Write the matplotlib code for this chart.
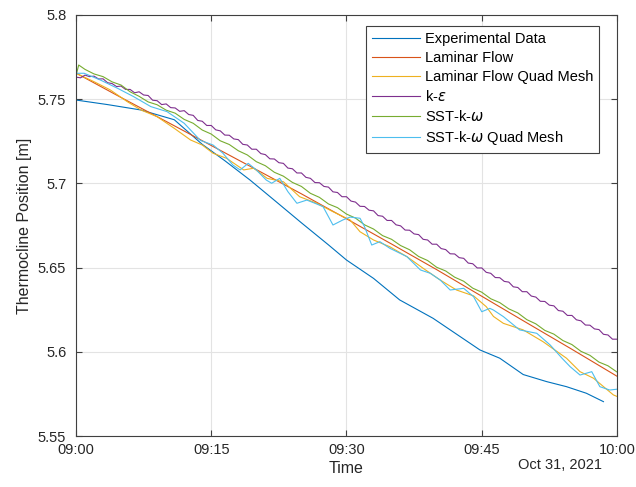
import numpy as np
import matplotlib
matplotlib.use("Agg")
import matplotlib.pyplot as plt
import matplotlib.dates as mdates

plt.rcParams['font.family'] = ['Liberation Sans', 'DejaVu Sans']
plt.rcParams['mathtext.fontset'] = 'dejavusans'

# minutes after 09:00 on Oct 31, 2021, values in m
exp_t = [0, 3.5, 7.2, 10.9, 14.0, 16.5, 19.3, 22, 25, 28, 30, 33, 35.9, 37.6, 39.6,
         42.2, 44.8, 47, 49.6, 52.2, 54.4, 56.6, 58.5]
exp_v = [5.7495, 5.7468, 5.7436, 5.7378, 5.7232, 5.7135, 5.7020, 5.6900, 5.6766,
         5.6635, 5.6545, 5.6436, 5.6308, 5.6258, 5.6199, 5.6105, 5.6011, 5.5962,
         5.5865, 5.5823, 5.5793, 5.5754, 5.5704]

lam_t = [0, 5, 10, 15, 20, 25, 30, 35, 40, 45, 50, 55, 60]
lam_v = [5.7655, 5.7510, 5.7368, 5.7225, 5.7082, 5.6938, 5.6790, 5.6640, 5.6488,
         5.6330, 5.6172, 5.6015, 5.5855]

lamq_t = [0, 2, 3.8, 5.7, 7.2, 9, 10.9, 12.7, 14, 15.2, 16.7, 18.6, 19.7, 21.2, 23,
          24.8, 26.7, 28.5, 30.4, 31.5, 33, 34.8, 36.7, 38.5, 40.4, 42.2, 44.1, 45.5,
          46.3, 47.4, 49.6, 51.8, 54.4, 55.9, 57.4, 59.6, 60]
lamq_v = [5.7654, 5.7604, 5.7555, 5.7485, 5.7436, 5.7396, 5.7327, 5.7258, 5.7228,
          5.7179, 5.7149, 5.7080, 5.7090, 5.7030, 5.7010, 5.6921, 5.6882, 5.6832,
          5.6783, 5.6713, 5.6664, 5.6624, 5.6565, 5.6496, 5.6426, 5.6367, 5.6332,
          5.6268, 5.6210, 5.6169, 5.6130, 5.6060, 5.5962, 5.5882, 5.5843, 5.5744,
          5.5735]

# k-epsilon, sampled every half minute
ke_t = [i * 0.5 for i in range(121)]
ke_v = [5.7631, 5.7627, 5.7643, 5.7634, 5.7637, 5.7620, 5.7621, 5.7598, 5.7593, 5.7575,
        5.7578, 5.7558, 5.7558, 5.7538, 5.7544, 5.7525, 5.7522, 5.7494, 5.7491, 5.7468,
        5.7472, 5.7450, 5.7448, 5.7428, 5.7432, 5.7409, 5.7404, 5.7374, 5.7369, 5.7344,
        5.7344, 5.7318, 5.7312, 5.7287, 5.7286, 5.7264, 5.7260, 5.7232, 5.7228, 5.7203,
        5.7203, 5.7177, 5.7171, 5.7146, 5.7145, 5.7123, 5.7119, 5.7091, 5.7087, 5.7062,
        5.7062, 5.7036, 5.7030, 5.7005, 5.7004, 5.6982, 5.6978, 5.6950, 5.6946, 5.6921,
        5.6921, 5.6895, 5.6889, 5.6864, 5.6863, 5.6841, 5.6837, 5.6809, 5.6805, 5.6780,
        5.6780, 5.6754, 5.6748, 5.6723, 5.6722, 5.6700, 5.6696, 5.6668, 5.6664, 5.6639,
        5.6639, 5.6613, 5.6607, 5.6582, 5.6581, 5.6559, 5.6555, 5.6527, 5.6523, 5.6498,
        5.6498, 5.6472, 5.6466, 5.6441, 5.6440, 5.6418, 5.6414, 5.6386, 5.6382, 5.6357,
        5.6357, 5.6331, 5.6325, 5.6300, 5.6299, 5.6277, 5.6273, 5.6245, 5.6241, 5.6216,
        5.6216, 5.6190, 5.6184, 5.6159, 5.6158, 5.6136, 5.6132, 5.6104, 5.6100, 5.6075,
        5.6075]

sst_t = [0, 0.3] + list(range(1, 61))
sst_v = [5.7640, 5.7703, 5.7677, 5.7650, 5.7634, 5.7603, 5.7584, 5.7544, 5.7517, 5.7484,
         5.7467, 5.7435, 5.7417, 5.7380, 5.7357, 5.7317, 5.7293, 5.7253, 5.7231, 5.7194,
         5.7169, 5.7129, 5.7105, 5.7066, 5.7043, 5.7006, 5.6982, 5.6941, 5.6917, 5.6878,
         5.6856, 5.6818, 5.6794, 5.6754, 5.6729, 5.6690, 5.6668, 5.6631, 5.6606, 5.6566,
         5.6542, 5.6502, 5.6480, 5.6443, 5.6419, 5.6378, 5.6354, 5.6315, 5.6292, 5.6255,
         5.6231, 5.6191, 5.6166, 5.6127, 5.6105, 5.6067, 5.6043, 5.6003, 5.5979, 5.5939,
         5.5917, 5.5880]

sstq_t = [0, 0.9, 2.7, 4.6, 6.4, 8.3, 10.1, 12.0, 13.8, 15.2, 16.3, 17.4, 18.2, 19.1,
          20.0, 21.1, 21.7, 22.6, 23.5, 24.5, 25.6, 26.5, 27.4, 28.5, 29.6, 30.4, 31.5,
          32.0, 32.8, 33.7, 34.8, 36.7, 38.2, 39.3, 40.4, 41.5, 43.0, 44.1, 45.0, 45.9,
          46.3, 47.4, 49.2, 51.1, 52.6, 53.9, 54.8, 55.9, 57.2, 58.1, 59.2, 60]
sstq_v = [5.7654, 5.7654, 5.7614, 5.7565, 5.7515, 5.7456, 5.7426, 5.7357, 5.7255,
          5.7228, 5.7179, 5.7109, 5.7080, 5.7119, 5.7080, 5.7020, 5.7001, 5.7030,
          5.6951, 5.6882, 5.6901, 5.6882, 5.6862, 5.6753, 5.6783, 5.6800, 5.6793,
          5.6743, 5.6634, 5.6654, 5.6615, 5.6565, 5.6486, 5.6466, 5.6426, 5.6367,
          5.6377, 5.6327, 5.6238, 5.6258, 5.6248, 5.6209, 5.6130, 5.6110, 5.6040,
          5.5962, 5.5912, 5.5862, 5.5882, 5.5793, 5.5773, 5.5778]

labels = ['Experimental Data', 'Laminar Flow', 'Laminar Flow Quad Mesh',
          'k-$\\epsilon$', 'SST-k-$\\omega$', 'SST-k-$\\omega$ Quad Mesh']
colors = ['#0072BD', '#D95319', '#EDB120', '#7E2F8E', '#77AC30', '#4DBEEE']

start = np.datetime64('2021-10-31T09:00:00')


def to_time(mins):
    secs = np.round(np.array(mins) * 60).astype(int)
    return start + secs.astype('timedelta64[s]')


fig = plt.figure(figsize=(6.36, 4.87), dpi=100)
ax = fig.add_axes([0.1195, 0.1047, 0.8506, 0.8645])

series = [(exp_t, exp_v), (lam_t, lam_v), (lamq_t, lamq_v),
          (ke_t, ke_v), (sst_t, sst_v), (sstq_t, sstq_v)]
for (t, v), lab, c in zip(series, labels, colors):
    ax.plot(to_time(t), v, color=c, lw=0.8, label=lab)

ax.set_xlim(to_time([0])[0], to_time([60])[0])
ax.set_ylim(5.55, 5.8)
ax.set_yticks([5.55, 5.6, 5.65, 5.7, 5.75, 5.8])
ax.set_yticklabels(['5.55', '5.6', '5.65', '5.7', '5.75', '5.8'])
ax.xaxis.set_major_locator(mdates.MinuteLocator(byminute=[0, 15, 30, 45]))
ax.xaxis.set_major_formatter(mdates.DateFormatter('%H:%M'))

ax.grid(True, color='#e3e3e3', lw=0.8)
ax.set_axisbelow(True)
for s in ax.spines.values():
    s.set_color('#404040')
    s.set_linewidth(0.8)
ax.tick_params(direction='in', length=4, width=0.8, top=True, right=True,
               colors='#404040', labelsize=10.5, labelcolor='#262626')
ax.tick_params(axis='x', pad=5)
ax.tick_params(axis='y', pad=7)

ax.set_xlabel('Time', fontsize=11.5, color='#262626', labelpad=3)
ax.set_ylabel('Thermocline Position [m]', fontsize=11.5, color='#262626', labelpad=4)
fig.text(0.9465, 0.037, 'Oct 31, 2021', ha='right', va='baseline', fontsize=10.5,
         color='#262626')

leg = ax.legend(loc='upper right', bbox_to_anchor=(0.967, 0.974), borderaxespad=0,
                fontsize=10.5, handlelength=3.3, handletextpad=0.35, labelspacing=0.35,
                borderpad=0.4, fancybox=False, framealpha=1, edgecolor='#404040')
leg.get_frame().set_linewidth(0.8)

fig.savefig('out.png', dpi=100)
